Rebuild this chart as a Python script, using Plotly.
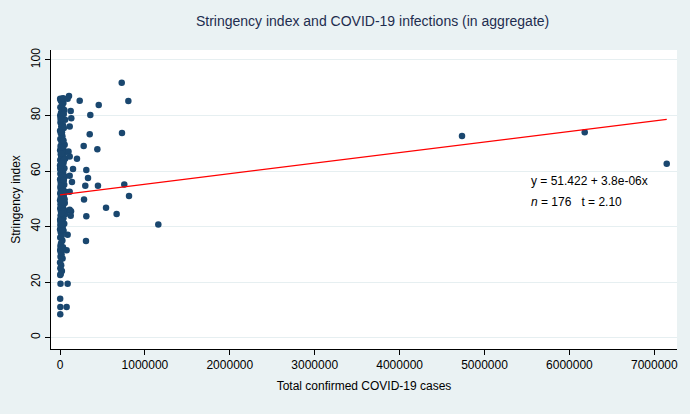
import plotly.graph_objects as go

# ---- data: total confirmed cases (thousands) and stringency index ----
cases_k = [
    2, 25, 8, 40, 5, 30, 12, 50, 3, 20, 60, 6, 35, 15, 45, 1, 10, 28, 4, 18,
    55, 7, 38, 2, 22, 48, 9, 33, 14, 62, 3, 26, 42, 11, 1, 30, 52, 6, 19, 37,
    4, 24, 58, 13, 2, 40, 8, 27, 50, 16, 5, 34, 12, 66, 3, 21, 44, 9, 30, 1,
    15, 56, 6, 36, 24, 3, 46, 11, 29, 64, 7, 18, 40, 2, 26, 10, 50, 4, 32, 15,
    1, 42, 8, 20, 3, 28, 12, 5, 35, 2, 18, 7, 30, 1, 14, 4, 22, 9, 3, 6,
    2, 4, 3,
    17, 44, 23, 31, 12, 47, 19, 36, 8, 28, 54, 13, 39, 21, 5, 33, 16, 25, 10, 38,
    27, 6, 41, 16, 2, 45, 10, 32, 20, 8,
    727, 805, 456, 232, 106, 90, 357, 126, 133, 114, 730, 350, 279, 440, 100, 114,
    200, 153, 310, 114, 330, 141, 298, 447, 757, 813, 114, 283, 542, 667, 310, 114,
    130, 126, 1158, 90, 306, 78, 90, 78,
    4735, 6180, 7146,
]
stringency = [
    86.0, 86.0, 85.5, 84.5, 83.0, 82.5, 81.0, 82.0, 80.0, 79.5, 78.5, 77.5, 76.5, 76.0, 75.5, 74.5, 73.5, 72.5, 71.5, 70.5,
    69.5, 69.0, 68.0, 67.5, 67.0, 66.5, 66.0, 65.5, 65.0, 64.5, 64.0, 63.5, 63.0, 62.5, 62.0, 61.5, 61.0, 60.5, 60.0, 59.5,
    59.0, 58.5, 58.0, 57.5, 57.0, 56.5, 56.0, 55.5, 55.0, 54.5, 54.0, 53.5, 53.0, 52.5, 52.0, 51.5, 51.0, 50.5, 50.0, 49.5,
    49.0, 48.5, 48.0, 47.5, 47.0, 46.5, 46.0, 45.5, 45.0, 44.5, 44.0, 43.5, 43.0, 42.5, 42.0, 41.5, 41.0, 40.5, 40.0, 39.5,
    39.0, 38.5, 38.0, 37.0, 36.0, 35.0, 34.0, 33.0, 32.5, 31.5, 30.0, 29.0, 28.5, 27.0, 26.0, 25.0, 24.0, 23.0, 22.5, 19.4,
    14.0, 11.0, 8.4,
    85.0, 80.5, 74.0, 70.0, 68.5, 64.0, 62.8, 57.8, 54.8, 52.8, 49.8, 47.2, 45.8, 44.8, 42.0, 38.8, 36.5, 32.0, 29.5, 86.2,
    84.0, 78.8, 71.0, 66.3, 60.8, 56.8, 51.8, 48.8, 40.8, 30.8,
    91.8, 85.2, 83.8, 85.3, 87.0, 86.0, 80.2, 81.6, 79.0, 76.0, 73.7, 73.2, 69.0, 67.8, 67.0, 65.2,
    64.4, 60.7, 60.4, 58.3, 57.5, 56.0, 54.7, 54.7, 55.1, 51.0, 52.5, 49.7, 46.8, 44.5, 43.7, 46.0,
    45.5, 43.9, 40.7, 37.0, 34.8, 31.4, 19.4, 11.0,
    72.6, 74.0, 62.6,
]
cases = [c * 1000 for c in cases_k]

intercept = 51.422
slope = 3.8e-06
fit_x = [min(cases), max(cases)]
fit_y = [intercept + slope * v for v in fit_x]

x_ticks = [0, 1000000, 2000000, 3000000, 4000000, 5000000, 6000000, 7000000]
x_tick_labels = ["0", "1000000", "2000000", "3000000", "4000000", "5000000", "6000000", "7000000"]
y_ticks = [0, 20, 40, 60, 80, 100]

FONT = "Liberation Sans, Arial, sans-serif"

fig = go.Figure()
fig.add_trace(go.Scatter(
    x=cases, y=stringency, mode="markers",
    marker=dict(color="#1a476f", size=6.5, line=dict(width=0)),
    showlegend=False, hoverinfo="x+y",
))
fig.add_trace(go.Scatter(
    x=fit_x, y=fit_y, mode="lines",
    line=dict(color="#ff0000", width=1.3),
    showlegend=False,
))

fig.update_layout(
    width=690, height=414,
    margin=dict(l=51, r=13, t=50, b=65),
    paper_bgcolor="#eaf2f3",
    plot_bgcolor="#ffffff",
    font=dict(family=FONT, size=11, color="#000000"),
    title=dict(
        text="Stringency index and COVID-19 infections (in aggregate)",
        x=0.54, xanchor="center", y=0.949, yanchor="middle",
        font=dict(family=FONT, size=14, color="#1e2d4f"),
    ),
    xaxis=dict(
        range=[-106000, 7267000],
        tickvals=x_ticks, ticktext=x_tick_labels,
        showgrid=False, zeroline=False, automargin=False,
        showline=True, linecolor="#000000", linewidth=1,
        ticks="outside", ticklen=5, tickcolor="#000000",
        tickfont=dict(size=12, color="#000000"),
        title=dict(text="Total confirmed COVID-19 cases", font=dict(size=12), standoff=10),
    ),
    yaxis=dict(
        range=[-4.14, 103.6],
        tickvals=y_ticks,
        tickangle=-90,
        showgrid=True, gridcolor="#e6eff1", gridwidth=1,
        zeroline=False, automargin=False,
        showline=True, linecolor="#000000", linewidth=1,
        ticks="outside", ticklen=5, tickcolor="#000000",
        tickfont=dict(size=12, color="#000000"),
        title=dict(text="Stringency index", font=dict(size=12), standoff=6),
    ),
)

fig.add_annotation(x=5520000, y=56.4, xref="x", yref="y", xanchor="left", yanchor="middle",
                   text="y = 51.422 + 3.8e-06x", showarrow=False,
                   font=dict(family=FONT, size=12, color="#000000"))
fig.add_annotation(x=5520000, y=48.8, xref="x", yref="y", xanchor="left", yanchor="middle",
                   text="<i>n</i> = 176   t = 2.10", showarrow=False,
                   font=dict(family=FONT, size=12, color="#000000"))

fig.write_html("out.html", config={"displayModeBar": False},
               post_script="document.body.style.margin='0';")
